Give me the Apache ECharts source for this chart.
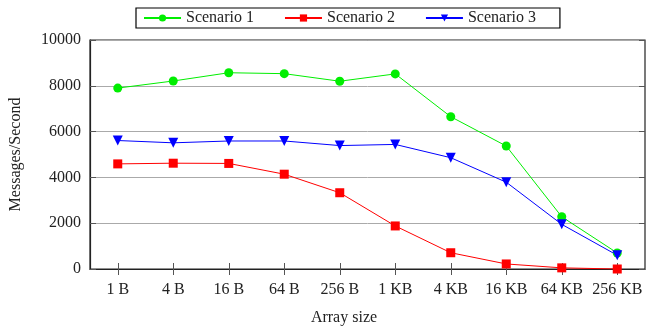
<!DOCTYPE html>
<html>
<head>
<meta charset="utf-8">
<script src="https://cdn.jsdelivr.net/npm/echarts@6/dist/echarts.min.js"></script>
<style>
  html, body { margin: 0; padding: 0; background: #fff; }
  #chart { width: 647px; height: 326px; }
</style>
</head>
<body>
<div id="chart"></div>
<script>
// Throughput per array size for three scenarios
const categories = ['1 B', '4 B', '16 B', '64 B', '256 B', '1 KB', '4 KB', '16 KB', '64 KB', '256 KB'];
const scenario1 = [7900, 8210, 8570, 8530, 8200, 8520, 6650, 5370, 2280, 700];
const scenario2 = [4590, 4620, 4610, 4140, 3330, 1880, 710, 220, 50, 0];
const scenario3 = [5610, 5510, 5590, 5590, 5390, 5440, 4860, 3790, 1950, 600];
const yTicks = { min: 0, max: 10000, interval: 2000 };

const FONT = '"Liberation Serif", "DejaVu Serif", serif';
const chart = echarts.init(document.getElementById('chart'));

const seriesStyle = (name, data, color, symbol, size, rotate) => ({
  name, type: 'line', data,
  xAxisIndex: 0, yAxisIndex: 0,
  symbol, symbolSize: size, symbolRotate: rotate || 0,
  showSymbol: true,
  lineStyle: { color, width: 1 },
  itemStyle: { color },
  animation: false
});

chart.setOption({
  animation: false,
  textStyle: { fontFamily: FONT },
  legend: {
    left: 136, top: 8,
    padding: [2, 24, 2, 7],
    borderColor: '#000', borderWidth: 1.2,
    itemWidth: 37, itemHeight: 9, itemGap: 30,
    textStyle: { fontFamily: FONT, fontSize: 16, color: '#222', lineHeight: 16 },
    data: ['Scenario 1', 'Scenario 2', 'Scenario 3']
  },
  grid: {
    left: 90, right: 2, top: 40, bottom: 57,
    outerBoundsMode: 'none', containLabel: false,
    show: true, borderColor: '#222', borderWidth: 1.2
  },
  xAxis: [{
    type: 'category', data: categories, boundaryGap: true,
    axisLine: { show: true, lineStyle: { color: '#222', width: 1.2 } },
    axisTick: { show: true, inside: true, length: 6, alignWithLabel: true, interval: 0, lineStyle: { color: '#555' } },
    axisLabel: { fontFamily: FONT, fontSize: 16, color: '#222', margin: 13, interval: 0, hideOverlap: false },
    name: 'Array size', nameLocation: 'middle', nameGap: 41,
    nameTextStyle: { fontFamily: FONT, fontSize: 16, color: '#222', padding: [0, 47, 0, 0] }
  }, {
    type: 'category', data: categories, boundaryGap: true, position: 'top',
    axisLine: { show: false },
    axisTick: { show: true, inside: true, length: 6, alignWithLabel: true, interval: 0, lineStyle: { color: '#555' } },
    axisLabel: { show: false }
  }],
  yAxis: [{
    type: 'value', min: yTicks.min, max: yTicks.max, interval: yTicks.interval,
    axisLine: { show: true, lineStyle: { color: '#222', width: 1.2 } },
    axisTick: { show: true, inside: true, length: 6, lineStyle: { color: '#555' } },
    splitLine: { show: true, lineStyle: { color: '#aaa', width: 1 } },
    axisLabel: { fontFamily: FONT, fontSize: 16, color: '#222', margin: 9, formatter: v => String(v) },
    name: 'Messages/Second', nameLocation: 'middle', nameGap: 66,
    nameTextStyle: { fontFamily: FONT, fontSize: 16, color: '#222' }
  }, {
    type: 'value', min: yTicks.min, max: yTicks.max, interval: yTicks.interval, position: 'right',
    axisLine: { show: false },
    axisTick: { show: true, inside: true, length: 6, lineStyle: { color: '#555' } },
    splitLine: { show: false },
    axisLabel: { show: false }
  }],
  series: [
    seriesStyle('Scenario 1', scenario1, '#00ee00', 'circle', 9),
    seriesStyle('Scenario 2', scenario2, '#ff0000', 'rect', 9),
    seriesStyle('Scenario 3', scenario3, '#0000ff', 'triangle', 10, 180)
  ]
});
</script>
</body>
</html>
